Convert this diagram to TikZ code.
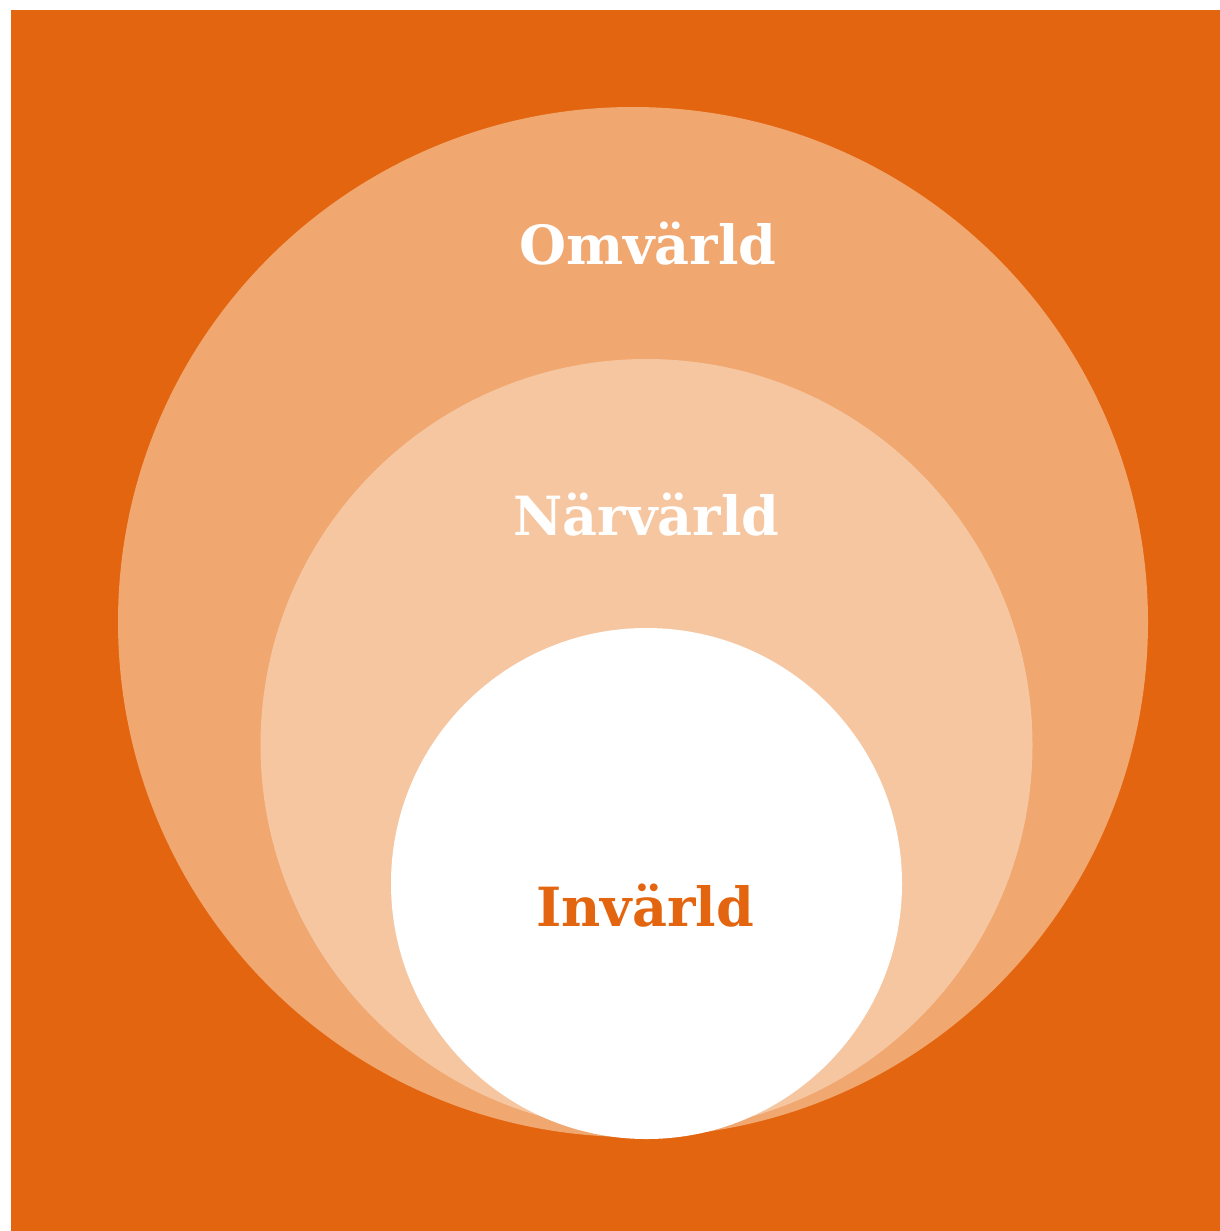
\documentclass[tikz,border=0pt]{standalone}
\usepackage{fontspec}
\setmainfont{DejaVu Serif}
\definecolor{bgorange}{HTML}{E3650F}
\definecolor{outerc}{HTML}{F0A770}
\definecolor{midc}{HTML}{F6C6A0}
\tikzset{
  lbl/.style={font=\fontsize{54}{58}\selectfont\bfseries, anchor=base, inner sep=0pt},
}
\begin{document}
\begin{tikzpicture}[x=1pt,y=-1pt]
\useasboundingbox (0,0) rectangle (1220,1231);
\fill[white] (0,0) rectangle (1220,1231);
\fill[bgorange] (11,10) rectangle (1220,1231);
\fill[outerc] (633,622) circle[radius=515];
\fill[midc] (646.5,745) circle[radius=386];
\fill[white] (646.5,883.5) circle[radius=255.5];
\node[lbl, text=white] (omv) at (648,264) {Omvärld};
\node[lbl, text=white] (nar) at (646.5,535) {Närvärld};
\node[lbl, text=bgorange] (inv) at (645,926) {Invärld};
\end{tikzpicture}
\end{document}
